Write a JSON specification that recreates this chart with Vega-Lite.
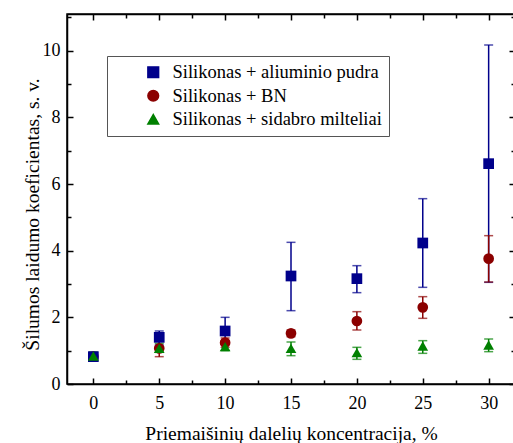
{
  "$schema": "https://vega.github.io/schema/vega-lite/v6.json",
  "width": 448,
  "height": 370,
  "autosize": {"type": "none"},
  "padding": {"left": 67, "top": 14, "right": 0, "bottom": 59},
  "config": {
    "view": {"stroke": "black", "strokeWidth": 1.5},
    "font": "Liberation Serif, Times New Roman, serif",
    "axis": {
      "labelFont": "Liberation Serif, Times New Roman, serif", "labelFontSize": 18, "labelColor": "black",
      "titleFont": "Liberation Serif, Times New Roman, serif", "titleFontSize": 19.5, "titleFontWeight": "normal", "titleColor": "black",
      "domainColor": "black", "domainWidth": 1.5, "tickColor": "black", "tickWidth": 1.5, "grid": false
    },
    "legend": {
      "orient": "none", "legendX": 40, "legendY": 42, "padding": 7, "strokeColor": "#555", "fillColor": "white",
      "symbolOffset": 30, "labelOffset": 10, "rowPadding": 4.5, "labelFont": "Liberation Serif, Times New Roman, serif", "labelFontSize": 18.5,
      "labelColor": "black", "symbolSize": 115, "symbolOpacity": 1, "labelLimit": 400,
      "labelExpr": "datum.label + '\u00a0\u00a0\u00a0\u00a0'"
    }
  },
  "datasets": {
    "pts": [
      {"c": 0, "k": 0.82, "lo": 0.75, "hi": 0.89, "s": "Silikonas + aliuminio pudra"},
      {"c": 5, "k": 1.40, "lo": 1.17, "hi": 1.59, "s": "Silikonas + aliuminio pudra"},
      {"c": 10, "k": 1.59, "lo": 1.20, "hi": 2.00, "s": "Silikonas + aliuminio pudra"},
      {"c": 15, "k": 3.24, "lo": 2.20, "hi": 4.25, "s": "Silikonas + aliuminio pudra"},
      {"c": 20, "k": 3.16, "lo": 2.74, "hi": 3.55, "s": "Silikonas + aliuminio pudra"},
      {"c": 25, "k": 4.23, "lo": 2.90, "hi": 5.56, "s": "Silikonas + aliuminio pudra"},
      {"c": 30, "k": 6.61, "lo": 3.05, "hi": 10.17, "s": "Silikonas + aliuminio pudra"},
      {"c": 0, "k": 0.82, "lo": 0.75, "hi": 0.89, "s": "Silikonas + BN"},
      {"c": 5, "k": 1.07, "lo": 0.82, "hi": 1.30, "s": "Silikonas + BN"},
      {"c": 10, "k": 1.24, "lo": 1.10, "hi": 1.38, "s": "Silikonas + BN"},
      {"c": 15, "k": 1.52, "lo": 1.42, "hi": 1.62, "s": "Silikonas + BN"},
      {"c": 20, "k": 1.89, "lo": 1.62, "hi": 2.17, "s": "Silikonas + BN"},
      {"c": 25, "k": 2.30, "lo": 1.97, "hi": 2.62, "s": "Silikonas + BN"},
      {"c": 30, "k": 3.76, "lo": 3.06, "hi": 4.45, "s": "Silikonas + BN"},
      {"c": 0, "k": 0.84, "lo": 0.72, "hi": 0.96, "s": "Silikonas + sidabro milteliai"},
      {"c": 5, "k": 1.07, "lo": 0.95, "hi": 1.22, "s": "Silikonas + sidabro milteliai"},
      {"c": 10, "k": 1.12, "lo": 1.00, "hi": 1.24, "s": "Silikonas + sidabro milteliai"},
      {"c": 15, "k": 1.07, "lo": 0.85, "hi": 1.26, "s": "Silikonas + sidabro milteliai"},
      {"c": 20, "k": 0.94, "lo": 0.74, "hi": 1.10, "s": "Silikonas + sidabro milteliai"},
      {"c": 25, "k": 1.14, "lo": 0.92, "hi": 1.30, "s": "Silikonas + sidabro milteliai"},
      {"c": 30, "k": 1.17, "lo": 0.97, "hi": 1.35, "s": "Silikonas + sidabro milteliai"}
    ]
  },
  "data": {"name": "pts"},
  "resolve": {"axis": {"x": "independent", "y": "independent"}},
  "layer": [
    {
      "mark": {"type": "rule", "strokeWidth": 1.5},
      "encoding": {
        "x": {"field": "c", "type": "quantitative", "scale": {"domain": [-2, 32], "nice": false, "zero": false},
              "axis": {"orient": "bottom", "values": [0, 5, 10, 15, 20, 25, 30], "tickSize": -6, "labelPadding": 16, "title": "Priemaišinių dalelių koncentracija, %", "titlePadding": 12}},
        "y": {"field": "lo", "type": "quantitative", "scale": {"domain": [0, 11.1], "nice": false},
              "axis": {"orient": "left", "values": [0, 2, 4, 6, 8, 10], "tickSize": -6, "labelPadding": 13, "title": "Šilumos laidumo koeficientas, s. v.", "titleX": -25, "titleY": 200}},
        "y2": {"field": "hi"},
        "color": {"field": "s", "type": "nominal",
                  "scale": {"domain": ["Silikonas + aliuminio pudra", "Silikonas + BN", "Silikonas + sidabro milteliai"], "range": ["#00008b", "#8b0000", "#008000"]}}
      }
    },
    {
      "mark": {"type": "tick", "orient": "horizontal", "size": 9, "thickness": 1.5},
      "encoding": {
        "x": {"field": "c", "type": "quantitative", "axis": {"orient": "bottom", "values": [2.5, 7.5, 12.5, 17.5, 22.5, 27.5], "tickSize": -4, "labels": false, "domain": false, "title": null}},
        "y": {"field": "hi", "type": "quantitative", "axis": {"orient": "left", "values": [1, 3, 5, 7, 9, 11], "tickSize": -4, "labels": false, "domain": false, "title": null}},
        "color": {"field": "s", "type": "nominal"}
      }
    },
    {
      "mark": {"type": "tick", "orient": "horizontal", "size": 9, "thickness": 1.5},
      "encoding": {
        "x": {"field": "c", "type": "quantitative", "axis": {"orient": "top", "values": [0, 5, 10, 15, 20, 25, 30], "tickSize": -6, "labels": false, "title": null}},
        "y": {"field": "lo", "type": "quantitative", "axis": {"orient": "right", "values": [0, 2, 4, 6, 8, 10], "tickSize": -6, "labels": false, "title": null}},
        "color": {"field": "s", "type": "nominal"}
      }
    },
    {
      "mark": {"type": "point", "filled": true, "size": 115, "opacity": 1},
      "encoding": {
        "x": {"field": "c", "type": "quantitative", "axis": {"orient": "top", "values": [2.5, 7.5, 12.5, 17.5, 22.5, 27.5], "tickSize": -4, "labels": false, "domain": false, "title": null}},
        "y": {"field": "k", "type": "quantitative", "axis": {"orient": "right", "values": [1, 3, 5, 7, 9, 11], "tickSize": -4, "labels": false, "domain": false, "title": null}},
        "color": {"field": "s", "type": "nominal", "title": null},
        "shape": {"field": "s", "type": "nominal", "title": null,
                  "scale": {"domain": ["Silikonas + aliuminio pudra", "Silikonas + BN", "Silikonas + sidabro milteliai"], "range": ["square", "circle", "triangle-up"]}},
        "order": {"field": "s"}
      }
    }
  ]
}
